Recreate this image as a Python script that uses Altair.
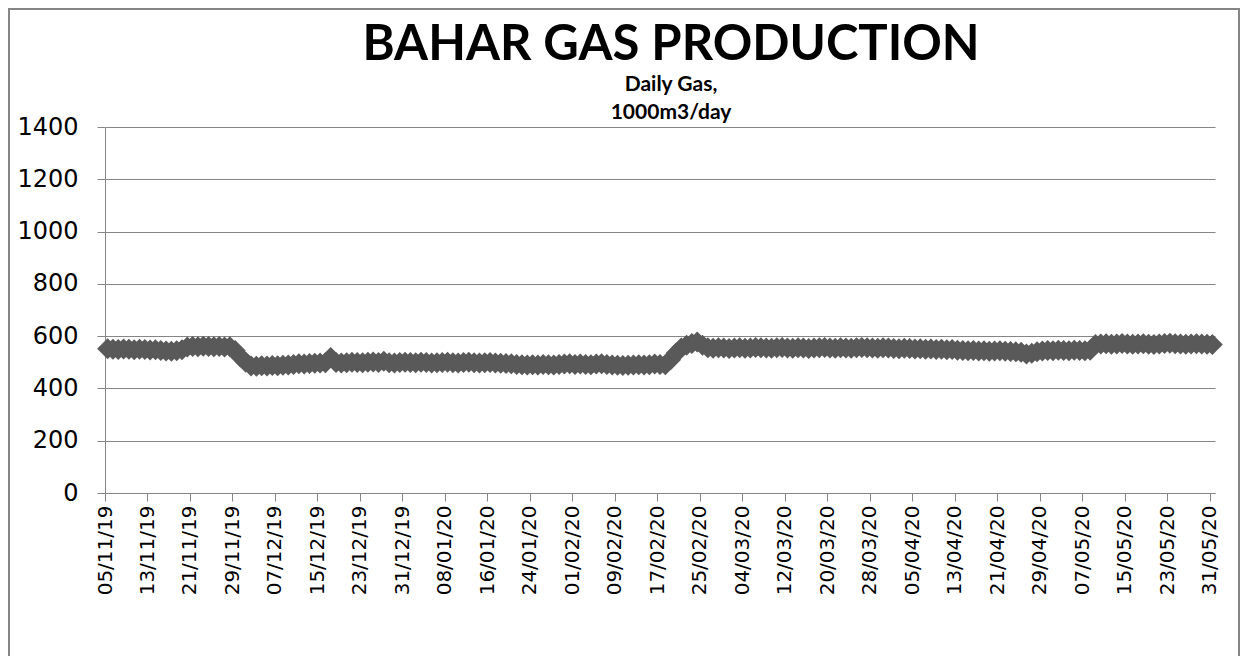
import altair as alt
import pandas as pd

# ---- data -------------------------------------------------------------
dates = [d.strftime('%Y-%m-%dT12:00:00Z')
         for d in pd.date_range('2019-11-05', '2020-05-31', freq='D')]

gas = (
    [552, 550, 549, 551, 550, 548, 550, 549, 547, 548]
    + [545, 543, 542, 544, 548]
    + [558, 560, 559, 561, 560, 559, 560, 558, 559]
    + [545, 520, 500]
    + [486, 485, 487, 486, 488, 487, 489, 490, 492, 494, 493, 495, 496, 497, 498]
    + [518]
    + [499, 497, 498, 500, 499, 498, 500, 501, 499, 504, 498, 497, 499, 500]
    + [499, 498, 500, 499, 497, 498, 499, 500, 498, 497, 499, 500, 498, 497, 498,
       499, 497, 496, 495, 494, 492, 491, 490, 491, 490, 492, 491, 490, 492, 493, 494]
    + [492, 493, 492, 491, 493, 494, 492, 490, 489, 488, 489, 490, 491, 490, 491, 493, 492, 491]
    + [510, 535, 555, 565, 572, 578, 565, 556]
    + [554, 556, 555, 553, 555, 556, 554, 555, 557, 556, 555, 554, 556, 557, 555, 554,
       556, 555, 553, 555, 556, 557, 555, 554, 556, 555, 554, 556, 557, 556, 555, 554,
       556, 555, 553, 552, 554, 553, 551, 552, 550, 551, 549, 550, 548, 549]
    + [546, 545, 544, 545, 543, 544, 542, 543, 544, 542, 541, 540, 538]
    + [532, 535]
    + [540, 543, 545, 544, 546, 545, 544, 546, 545, 544, 546]
    + [568, 570, 571, 569, 570, 572, 570, 569, 570, 571, 569, 568, 570, 572, 573,
       571, 570, 569, 570, 571, 570, 569, 568]
)
assert len(gas) == len(dates)

tick_days = pd.date_range('2019-11-05', '2020-05-31', freq='8D')
y_ticks = [0, 200, 400, 600, 800, 1000, 1200, 1400]

title_text = 'BAHAR GAS PRODUCTION'
subtitle_lines = ['Daily Gas,', '1000m3/day']

df = pd.DataFrame({'date': dates, 'gas': gas})
one = pd.DataFrame({'a': [0]})

# ---- chart ------------------------------------------------------------
W, H = 1110, 366
GRAY = '#868686'
CX = 566  # horizontal centre of the titles, relative to the plot area

tick_values = [alt.DateTime(year=int(d.year), month=int(d.month), date=int(d.day), utc=True)
               for d in tick_days]

x_enc = alt.X(
    'date:T',
    title=None,
    scale=alt.Scale(type='utc',
                    domain=[alt.DateTime(year=2019, month=11, date=5, utc=True),
                            alt.DateTime(year=2020, month=6, date=1, utc=True)]),
    axis=alt.Axis(values=tick_values,
                  labelExpr="utcFormat(datum.value, '%d/%m/%y')",
                  labelAngle=-90, labelFont='DejaVu Sans', labelFontSize=20,
                  labelColor='black', labelPadding=4, labelOverlap=False,
                  tickColor=GRAY, tickSize=8, domainColor=GRAY, grid=False),
)
y_enc = alt.Y(
    'gas:Q',
    title=None,
    scale=alt.Scale(domain=[0, 1400], nice=False),
    axis=alt.Axis(values=y_ticks, format='d', labelFont='DejaVu Sans', labelFontSize=24,
                  labelColor='black', labelPadding=19,
                  tickColor=GRAY, tickSize=8, domainColor=GRAY,
                  grid=True, gridColor=GRAY, gridWidth=1),
)

points = alt.Chart(df).mark_point(
    shape='diamond', filled=True, size=441, color='#595959', opacity=1
).encode(x=x_enc, y=y_enc)

border = alt.Chart(one).mark_rect(
    fillOpacity=0, stroke=GRAY, strokeWidth=2
).encode(x=alt.value(-96), x2=alt.value(1134), y=alt.value(-118), y2=alt.value(700))

title_mark = alt.Chart(one).mark_text(
    font='Lato', fontSize=49, fontWeight='bold', color='black',
    align='center', baseline='alphabetic'
).encode(x=alt.value(CX), y=alt.value(-67), text=alt.value(title_text))

sub1 = alt.Chart(one).mark_text(
    font='Lato', fontSize=21, fontWeight='bold', color='black',
    align='center', baseline='alphabetic'
).encode(x=alt.value(CX), y=alt.value(-36), text=alt.value(subtitle_lines[0]))

sub2 = alt.Chart(one).mark_text(
    font='Lato', fontSize=21, fontWeight='bold', color='black',
    align='center', baseline='alphabetic'
).encode(x=alt.value(CX), y=alt.value(-8), text=alt.value(subtitle_lines[1]))

chart = alt.layer(border, points, title_mark, sub1, sub2).properties(
    width=W, height=H,
    autosize=alt.AutoSizeParams(type='none'),
    padding={'left': 97, 'top': 119, 'right': 25, 'bottom': 163},
).configure_view(strokeWidth=0)

chart.save('out.html', embed_options={'renderer': 'svg', 'actions': False})
